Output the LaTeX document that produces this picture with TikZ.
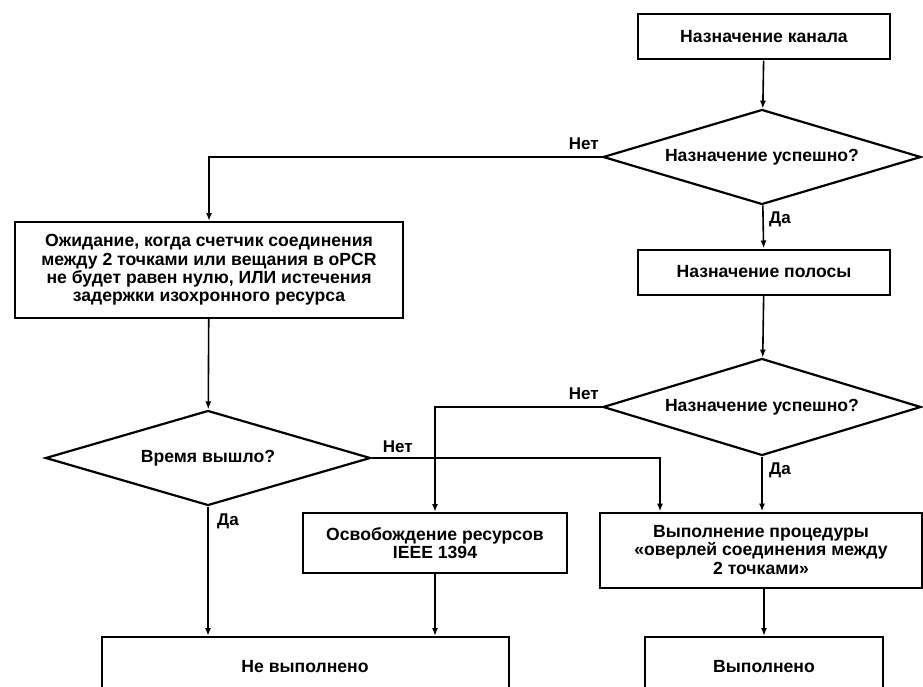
\documentclass[tikz,border=0pt]{standalone}
\usepackage{fontspec}
\setmainfont{Liberation Sans}
\usetikzlibrary{positioning}
\usetikzlibrary{arrows.meta}
\usetikzlibrary{shapes.geometric}
\tikzset{blk/.style = {draw, line width = 2pt, align = center, inner sep = 0,
    font = \bfseries\fontsize{17.6}{18.3}\selectfont}}
\tikzset{dmd/.style = {blk, diamond, aspect = 3.3, line width = 2.2pt}}
\tikzset{arr/.style = {line width = 1.6pt, -{Latex[length = 8pt, width = 6pt]}}}
\tikzset{lbl/.style = {font = \bfseries\fontsize{17}{18}\selectfont, inner sep = 1pt}}

\begin{document}
\begin{tikzpicture}[x = 1pt, y = -1pt]
    \useasboundingbox (0,0) rectangle (923,687);
    % right column
    \node[blk, minimum width = 252, minimum height = 45] (chan) at (764,37) {Назначение канала};
    \node[dmd, minimum width = 318, minimum height = 95] (ok1) at (762,157) {Назначение успешно?};
    \node[blk, minimum width = 252, minimum height = 45] (band) at (764,272) {Назначение полосы};
    \node[dmd, minimum width = 318, minimum height = 97] (ok2) at (762,407) {Назначение успешно?};
    \node[blk, minimum width = 322, minimum height = 75] (ovl) at (761,550)
        {Выполнение процедуры\\«оверлей соединения между\\2 точками»};
    \node[blk, minimum width = 238, minimum height = 60] (done) at (764,667) {Выполнено};
    % left column
    \node[blk, minimum width = 388, minimum height = 96] (wait) at (209,270)
        {Ожидание, когда счетчик соединения\\между 2 точками или вещания в oPCR\\не будет равен нулю, ИЛИ истечения\\задержки изохронного ресурса};
    \node[dmd, minimum width = 325, minimum height = 95] (tmo) at (208,458) {Время вышло?};
    \node[blk, minimum width = 264, minimum height = 60] (free) at (435,543)
        {Освобождение ресурсов\\IEEE 1394};
    \node[blk, minimum width = 407, minimum height = 60] (fail) at (305,667) {Не выполнено};

    \draw[arr] (chan) -- (ok1);
    \draw[arr] (ok1.west) -| (wait.north);
    \node[lbl, anchor = south east] at ([shift = {(-2,-6)}]ok1.west) {Нет};
    \draw[arr] (ok1) -- (band);
    \node[lbl, anchor = north west] at ([shift = {(6,5)}]ok1.south) {Да};
    \draw[arr] (band) -- (ok2);
    \draw[arr] (ok2.west) -| (free.north);
    \node[lbl, anchor = south east] at ([shift = {(-2,-6)}]ok2.west) {Нет};
    \draw[arr] (ok2.south) -- (ok2.south |- ovl.north);
    \node[lbl, anchor = north west] at ([shift = {(6,5)}]ok2.south) {Да};
    \draw[arr] (ovl.south -| done) -- (done);
    \draw[arr] (wait) -- (tmo);
    \coordinate (ovlin) at ([xshift = -101]ovl.north);
    \draw[arr] (tmo.east) -| (ovlin);
    \node[lbl, anchor = south west] at ([shift = {(10,-4)}]tmo.east) {Нет};
    \draw[arr] (tmo.south) -- (tmo.south |- fail.north);
    \node[lbl, anchor = north west] at ([shift = {(8,6)}]tmo.south) {Да};
    \draw[arr] (free.south) -- (free.south |- fail.north);
\end{tikzpicture}
\end{document}
